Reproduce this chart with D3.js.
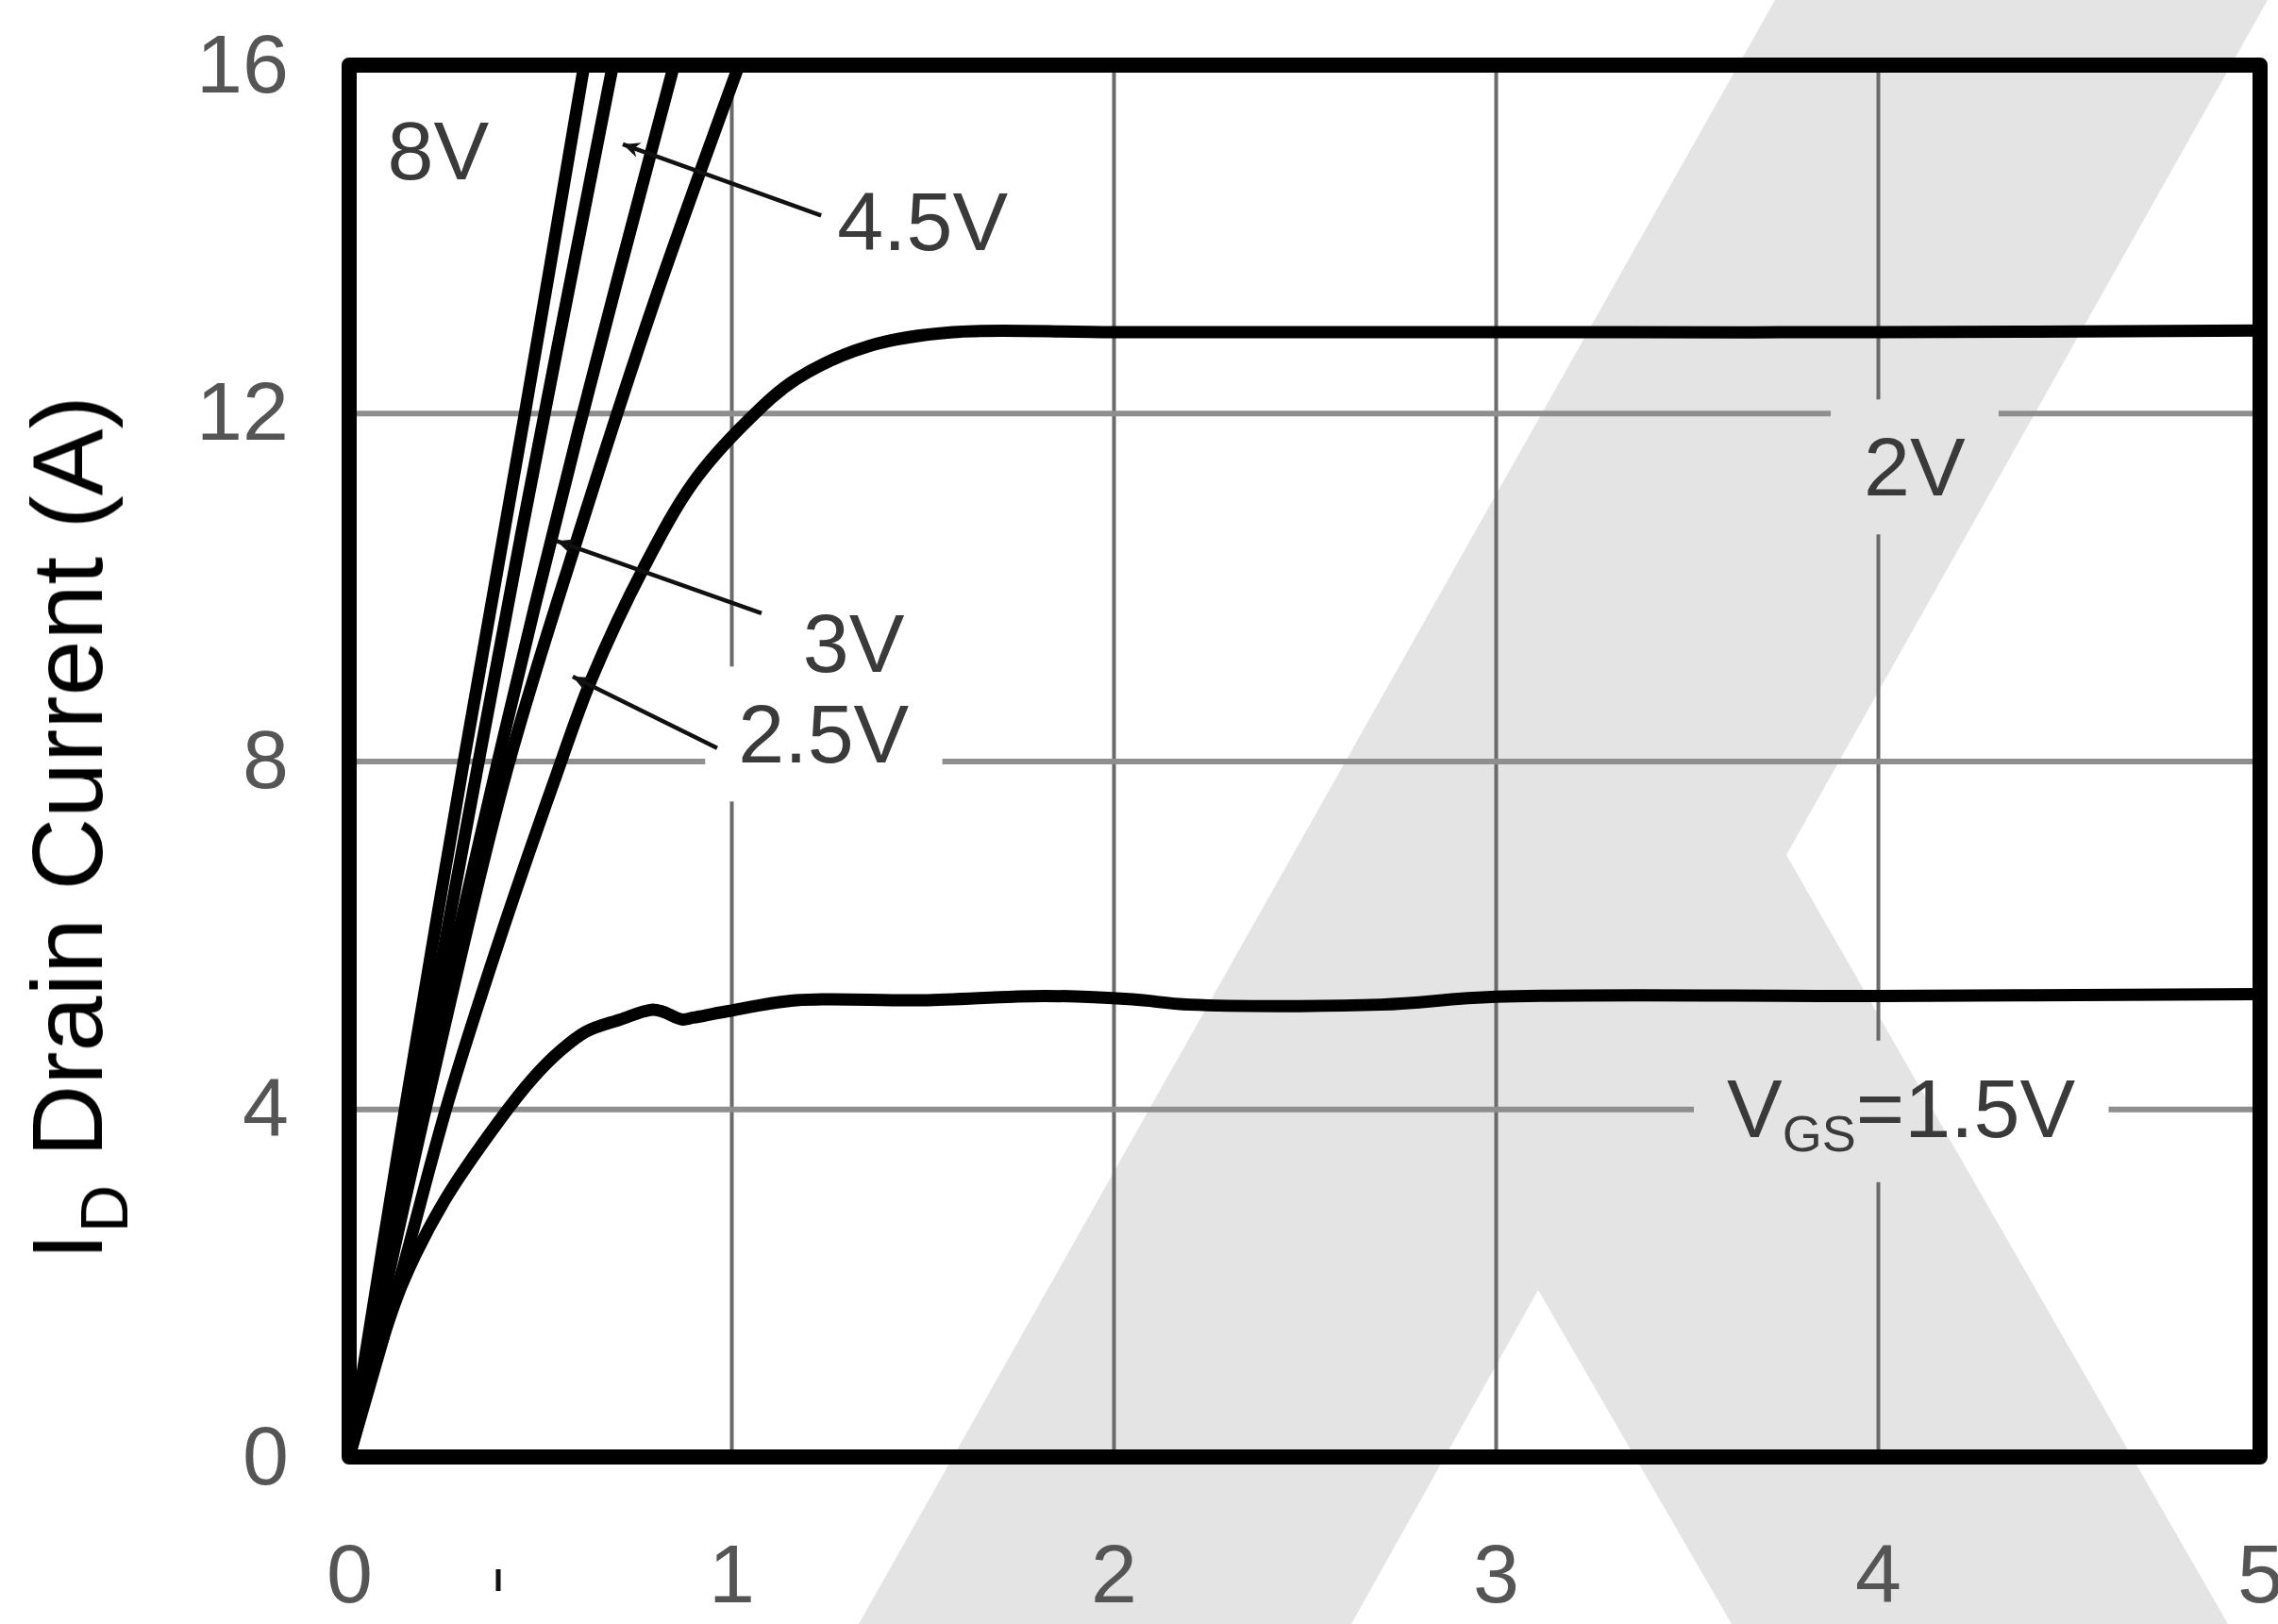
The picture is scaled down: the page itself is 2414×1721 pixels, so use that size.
<!DOCTYPE html>
<html>
<head>
<meta charset="utf-8">
<script src="https://cdn.jsdelivr.net/npm/d3@7"></script>
<style>
  html, body { margin: 0; padding: 0; background: #fff; }
  svg { display: block; font-family: "Liberation Sans", Arial, Helvetica, sans-serif; }
</style>
</head>
<body>
<div id="chart"></div>
<script>
// output characteristics: [Vds (V), Id (A)], one array per gate voltage
var vgs8V  = [[0,0],[0.15,4.1],[0.3,8.0],[0.46,12.0],[0.615,16.0]];
var vgs45V = [[0,0],[0.2,4.7],[0.45,10.6],[0.69,16.0]];
var vgs3V  = [[0,0],[0.2,4.3],[0.4,8.2],[0.6,11.8],[0.85,16.0]];
var vgs25V = [[0,0],[0.2,4.0],[0.41,7.85],[0.6,10.6],[0.8,13.3],[1.02,16.0]];
var vgs2V  = [[0,0],[0.13,2.0],[0.26,4.1],[0.39,5.9],[0.543,7.85],[0.634,8.94],[0.773,10.24],[0.9,11.2],
              [1.04,11.9],[1.17,12.39],[1.36,12.77],[1.58,12.93],[2.0,12.93],[3.0,12.93],[4.0,12.93],[5.0,12.95]];
var vgs15V = [[0,0],[0.07,1.1],[0.14,2.0],[0.25,2.95],[0.39,3.85],[0.48,4.35],[0.55,4.66],[0.62,4.89],
              [0.71,5.03],[0.79,5.14],[0.82,5.12],[0.87,5.03],[0.9,5.05],[0.985,5.12],[1.17,5.25],[1.5,5.25],
              [1.82,5.3],[2.05,5.26],[2.2,5.2],[2.7,5.2],[3.0,5.29],[4.0,5.3],[5.0,5.32]];

var xTicks = [0, 1, 2, 3, 4, 5];
var yTicks = [0, 4, 8, 12, 16];

// curve labels, anchored at [Vds, Id] (start of text, baseline)
var curveLabels = [
  { text: '8V',   at: [0.10, 14.69] },
  { text: '4.5V', at: [1.277, 13.87] },
  { text: '3V',   at: [1.187, 9.03] },
  { text: '2.5V', at: [1.018, 7.98] },
  { text: '2V',   at: [3.963, 11.05] },
  { text: 'V',    sub: 'GS', tail: '=1.5V', at: [3.605, 3.68] }
];
// leader arrows: from label to curve
var arrows = [
  { from: [1.235, 14.27], to: [0.716, 15.09] },
  { from: [1.079, 9.70],  to: [0.543, 10.53] },
  { from: [0.963, 8.15],  to: [0.585, 8.97] }
];

(function () {
  var W = 2414, H = 1721;
  var m = { left: 370, right: 2395, top: 69, bottom: 1544 };

  var svg = d3.select('#chart').append('svg')
      .attr('width', W)
      .attr('height', H);

  var x = d3.scaleLinear().domain([0, 5]).range([m.left, m.right]);
  var y = d3.scaleLinear().domain([0, 16]).range([m.bottom, m.top]);

  // watermark logo in the background
  svg.append('path')
      .attr('d', 'M1881,0 L2403,0 L1893,906 L2361,1721 L1835,1721 L1630,1367 L1432,1721 L910,1721 Z')
      .attr('fill', '#e4e4e4');

  var gridLayer = svg.append('g');
  var curveLayer = svg.append('g');

  var defs = svg.append('defs');
  defs.append('clipPath').attr('id', 'plot')
    .append('rect')
      .attr('x', m.left).attr('y', m.top)
      .attr('width', m.right - m.left).attr('height', m.bottom - m.top);

  defs.append('marker')
      .attr('id', 'head')
      .attr('viewBox', '0 0 10 10')
      .attr('refX', 10).attr('refY', 5)
      .attr('markerWidth', 34).attr('markerHeight', 18)
      .attr('markerUnits', 'userSpaceOnUse')
      .attr('orient', 'auto')
    .append('path')
      .attr('d', 'M0,0.5 L10,5 L0,9.5 L3,5 Z')
      .attr('fill', '#111');

  // curve labels
  var labelG = svg.append('g').attr('font-size', 88).attr('fill', '#3a3a3a');
  curveLabels.forEach(function (d) {
    var t = labelG.append('text')
        .attr('x', x(d.at[0]))
        .attr('y', y(d.at[1]))
        .text(d.text);
    if (d.sub) {
      t.append('tspan').attr('font-size', 54).attr('dy', 15).text(d.sub);
      t.append('tspan').attr('dy', -15).text(d.tail);
    }
  });

  // label boxes cut gaps in the grid
  var mask = defs.append('mask').attr('id', 'gridcut')
      .attr('maskUnits', 'userSpaceOnUse')
      .attr('x', 0).attr('y', 0).attr('width', W).attr('height', H);
  mask.append('rect').attr('width', W).attr('height', H).attr('fill', '#fff');
  labelG.selectAll('text').each(function () {
    var b = this.getBBox();
    mask.append('rect')
        .attr('x', b.x - 35).attr('y', b.y - 22)
        .attr('width', b.width + 70).attr('height', b.height + 44)
        .attr('fill', '#000');
  });

  gridLayer.attr('mask', 'url(#gridcut)');

  gridLayer.append('g')
      .attr('transform', 'translate(0,' + m.bottom + ')')
      .call(d3.axisBottom(x).tickValues([1, 2, 3, 4]).tickSize(-(m.bottom - m.top)).tickFormat(''))
      .call(function (g) { g.select('.domain').remove(); })
      .selectAll('line')
      .attr('stroke', '#6a6a6a')
      .attr('stroke-width', 4);

  gridLayer.append('g')
      .attr('transform', 'translate(' + m.left + ',0)')
      .call(d3.axisLeft(y).tickValues([4, 8, 12]).tickSize(-(m.right - m.left)).tickFormat(''))
      .call(function (g) { g.select('.domain').remove(); })
      .selectAll('line')
      .attr('stroke', '#8e8e8e')
      .attr('stroke-width', 6);

  // the curves
  var line = d3.line()
      .x(function (d) { return x(d[0]); })
      .y(function (d) { return y(d[1]); })
      .curve(d3.curveCatmullRom.alpha(0.5));

  var series = [vgs8V, vgs45V, vgs3V, vgs25V, vgs2V, vgs15V];
  curveLayer.append('g')
      .attr('clip-path', 'url(#plot)')
    .selectAll('path')
    .data(series)
    .enter().append('path')
      .attr('d', line)
      .attr('fill', 'none')
      .attr('stroke', '#000')
      .attr('stroke-width', 13)
      .attr('stroke-linejoin', 'round')
      .attr('stroke-linecap', 'round');

  curveLayer.append('g').selectAll('line')
    .data(arrows)
    .enter().append('line')
      .attr('x1', function (d) { return x(d.from[0]); })
      .attr('y1', function (d) { return y(d.from[1]); })
      .attr('x2', function (d) { return x(d.to[0]); })
      .attr('y2', function (d) { return y(d.to[1]); })
      .attr('stroke', '#111')
      .attr('stroke-width', 4.5)
      .attr('marker-end', 'url(#head)');

  // frame
  svg.append('rect')
      .attr('x', m.left).attr('y', m.top)
      .attr('width', m.right - m.left).attr('height', m.bottom - m.top)
      .attr('fill', 'none')
      .attr('stroke', '#000')
      .attr('stroke-width', 16)
      .attr('stroke-linejoin', 'round');

  // tick labels
  svg.append('g')
      .attr('transform', 'translate(' + m.left + ',0)')
      .call(d3.axisLeft(y).tickValues(yTicks).tickFormat(d3.format('d')).tickSize(0).tickPadding(64))
      .call(function (g) { g.select('.domain').remove(); })
      .selectAll('text')
      .attr('font-size', 88)
      .attr('font-family', '"Liberation Sans", Arial, sans-serif')
      .attr('fill', '#555');

  svg.append('g')
      .attr('transform', 'translate(0,' + m.bottom + ')')
      .call(d3.axisBottom(x).tickValues(xTicks).tickFormat(d3.format('d')).tickSize(0).tickPadding(92))
      .call(function (g) { g.select('.domain').remove(); })
      .selectAll('text')
      .attr('font-size', 88)
      .attr('font-family', '"Liberation Sans", Arial, sans-serif')
      .attr('fill', '#555');

  // small stray mark under the axis
  svg.append('line')
      .attr('x1', 528).attr('x2', 528)
      .attr('y1', 1663).attr('y2', 1686)
      .attr('stroke', '#111').attr('stroke-width', 5);

  // y axis title
  var title = svg.append('text')
      .attr('transform', 'translate(108,' + ((418 + 1337) / 2) + ') rotate(-90)')
      .attr('text-anchor', 'middle')
      .attr('font-size', 106)
      .attr('fill', '#000');
  title.append('tspan').text('I');
  title.append('tspan').attr('font-size', 70).attr('dy', 27).text('D');
  title.append('tspan').attr('dy', -27).text(' Drain Current (A)');
})();
</script>
</body>
</html>
